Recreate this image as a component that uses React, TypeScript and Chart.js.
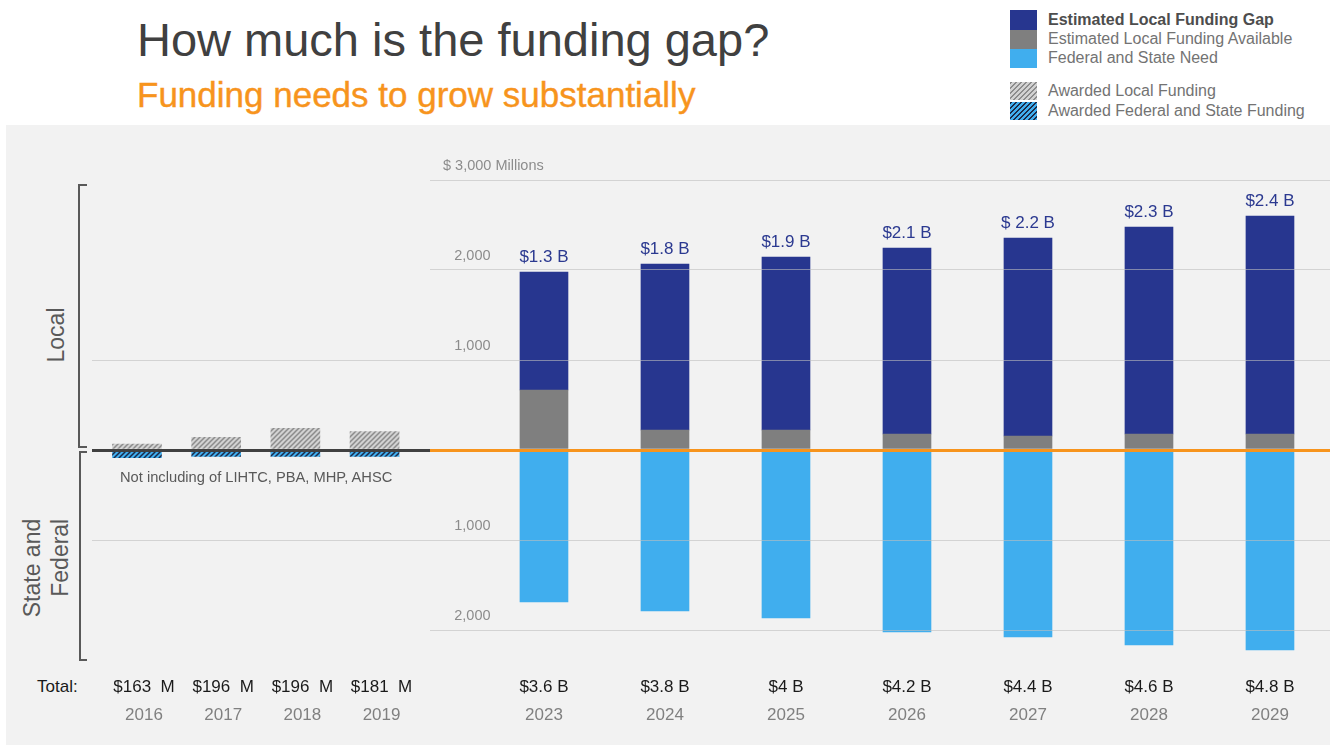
import React, { useEffect, useRef } from 'react';
import { Chart, registerables } from 'chart.js';

Chart.register(...registerables);

// ---------- data ----------
const leftYears = [2016, 2017, 2018, 2019];
const leftTotals = ['$163  M', '$196  M', '$196  M', '$181  M'];
const awardedLocal = [65, 140, 240, 205];
const awardedFederalState = [-85, -70, -70, -70];

const rightYears = [2023, 2024, 2025, 2026, 2027, 2028, 2029];
const rightTotals = ['$3.6 B', '$3.8 B', '$4 B', '$4.2 B', '$4.4 B', '$4.6 B', '$4.8 B'];
const localAvailable = [667, 222, 222, 178, 156, 178, 178];
const localGap = [1311, 1845, 1922, 2066, 2200, 2300, 2422];
const federalStateNeed = [-1689, -1789, -1867, -2022, -2078, -2167, -2222];
const gapLabels = ['$1.3 B', '$1.8 B', '$1.9 B', '$2.1 B', '$ 2.2 B', '$2.3 B', '$2.4 B'];

const yTickValues = [-2000, -1000, 0, 1000, 2000, 3000];
const Y_MIN = -2500;
const Y_MAX = 3000;

// ---------- styles ----------
const FONT = '"Liberation Sans", Arial, sans-serif';
const C_GAP = '#27368f';
const C_AVAIL = '#7f7f7f';
const C_FED = '#40aeee';
const C_ORANGE = '#f7941d';
const C_GRID = 'rgba(190,190,190,0.6)';

function makeHatch(bg: string, fg: string) {
  const s = 5;
  const c = document.createElement('canvas');
  c.width = s;
  c.height = s;
  const g = c.getContext('2d')!;
  g.fillStyle = bg;
  g.fillRect(0, 0, s, s);
  g.strokeStyle = fg;
  g.lineWidth = 1.5;
  g.beginPath();
  g.moveTo(0, s);
  g.lineTo(s, 0);
  g.moveTo(-s / 2, s / 2);
  g.lineTo(s / 2, -s / 2);
  g.moveTo(s / 2, s * 1.5);
  g.lineTo(s * 1.5, s / 2);
  g.stroke();
  return g.createPattern(c, 'repeat')!;
}

function yAxis(showLabels: boolean, gridValues: number[], zeroColor: string) {
  return {
    type: 'linear',
    stacked: true,
    min: Y_MIN,
    max: Y_MAX,
    afterBuildTicks: (axis: any) => {
      axis.ticks = yTickValues.map((v) => ({ value: v }));
    },
    afterFit: (axis: any) => {
      axis.width = 0;
      axis.paddingTop = 0;
      axis.paddingBottom = 0;
      axis.paddingLeft = 0;
      axis.paddingRight = 0;
    },
    border: { display: false },
    grid: {
      z: 1,
      drawTicks: false,
      color: (ctx: any) =>
        ctx.tick && ctx.tick.value === 0
          ? zeroColor
          : ctx.tick && gridValues.includes(ctx.tick.value)
          ? C_GRID
          : 'rgba(0,0,0,0)',
      lineWidth: (ctx: any) => (ctx.tick && ctx.tick.value === 0 ? 3 : 1),
    },
    ticks: {
      mirror: true,
      padding: 13,
      labelOffset: -14,
      color: showLabels ? '#8c8c8c' : 'rgba(0,0,0,0)',
      font: { family: FONT, size: 14.5 },
      callback: (v: number) =>
        v === 0 ? '' : v === 3000 ? '$ 3,000 Millions' : '\u2002 ' + Math.abs(v).toLocaleString('en-US'),
    },
  };
}

function xAxes(years: number[], totals: string[], min: number, max: number, shift: number) {
  const common = {
    type: 'linear',
    min,
    max,
    offset: false,
    position: 'bottom',
    border: { display: false },
    grid: { display: false, drawTicks: false, offset: false },
    afterBuildTicks: (axis: any) => {
      axis.ticks = years.map((v) => ({ value: v }));
    },
  };
  const fixed = (h: number) => (axis: any) => {
    axis.height = h;
    axis.paddingLeft = 0;
    axis.paddingRight = 0;
    axis.paddingTop = 0;
    axis.paddingBottom = 0;
  };
  return {
    x: {
      ...common,
      stacked: true,
      weight: 0,
      afterFit: fixed(22.4),
      ticks: {
        autoSkip: false,
        maxRotation: 0,
        padding: 2,
        labelOffset: shift,
        color: '#1a1a1a',
        font: { family: FONT, size: 17 },
        callback: (v: number) => {
          const i = years.indexOf(v);
          return i >= 0 ? totals[i] : '';
        },
      },
    },
    xYear: {
      ...common,
      weight: 1,
      afterFit: fixed(29.4),
      ticks: {
        autoSkip: false,
        maxRotation: 0,
        padding: 8,
        labelOffset: shift,
        color: '#808080',
        font: { family: FONT, size: 17 },
        callback: (v: number) => String(v),
      },
    },
  };
}

const gapLabelPlugin = {
  id: 'gapLabels',
  afterDatasetsDraw(chart: any) {
    const meta = chart.getDatasetMeta(1);
    const ctx = chart.ctx;
    ctx.save();
    ctx.font = `17px ${FONT}`;
    ctx.fillStyle = '#2b3990';
    ctx.textAlign = 'center';
    ctx.textBaseline = 'alphabetic';
    meta.data.forEach((el: any, i: number) => {
      ctx.fillText(gapLabels[i], el.x, el.y - 10);
    });
    ctx.restore();
  },
};

const LAYOUT = { padding: { top: 55, bottom: 18.2, left: 0, right: 0 } };

export default function App() {
  const leftRef = useRef<HTMLCanvasElement>(null);
  const rightRef = useRef<HTMLCanvasElement>(null);

  useEffect(() => {
    document.body.style.margin = '0';
    Chart.defaults.font.family = FONT;
    const grayHatch = makeHatch('#d2d2d2', '#8c8c8c');
    const blueHatch = makeHatch('#40aeee', '#1c2a48');

    const left = new Chart(leftRef.current!, {
      type: 'bar',
      data: {
        datasets: [
          {
            label: 'Awarded Local Funding',
            data: leftYears.map((x, i) => ({ x, y: awardedLocal[i] })),
            backgroundColor: grayHatch,
            barThickness: 49,
          },
          {
            label: 'Awarded Federal and State Funding',
            data: leftYears.map((x, i) => ({ x, y: awardedFederalState[i] })),
            backgroundColor: blueHatch,
            barThickness: 49,
          },
        ],
      },
      options: {
        responsive: false,
        animation: false,
        layout: LAYOUT,
        plugins: { legend: { display: false }, tooltip: { enabled: false } },
        scales: {
          ...xAxes(leftYears, leftTotals, 2015.432, 2019.7, 7),
          y: yAxis(false, [1000, -1000], '#404040'),
        } as any,
      },
    } as any);

    const right = new Chart(rightRef.current!, {
      type: 'bar',
      data: {
        datasets: [
          {
            label: 'Estimated Local Funding Available',
            data: rightYears.map((x, i) => ({ x, y: localAvailable[i] })),
            backgroundColor: C_AVAIL,
            barThickness: 48,
          },
          {
            label: 'Estimated Local Funding Gap',
            data: rightYears.map((x, i) => ({ x, y: localGap[i] })),
            backgroundColor: C_GAP,
            barThickness: 48,
          },
          {
            label: 'Federal and State Need',
            data: rightYears.map((x, i) => ({ x, y: federalStateNeed[i] })),
            backgroundColor: C_FED,
            barThickness: 48,
          },
        ],
      },
      options: {
        responsive: false,
        animation: false,
        layout: LAYOUT,
        plugins: { legend: { display: false }, tooltip: { enabled: false } },
        scales: {
          ...xAxes(rightYears, rightTotals, 2022.058, 2029.496, 0),
          y: yAxis(true, [3000, 2000, 1000, -1000, -2000], C_ORANGE),
        } as any,
      },
      plugins: [gapLabelPlugin],
    } as any);

    return () => {
      left.destroy();
      right.destroy();
    };
  }, []);

  const legendRows = [
    { label: 'Estimated Local Funding Gap', top: 10, h: 19.5, bg: C_GAP, bold: true },
    { label: 'Estimated Local Funding Available', top: 29.5, h: 19.5, bg: C_AVAIL },
    { label: 'Federal and State Need', top: 49, h: 18.5, bg: C_FED },
    {
      label: 'Awarded Local Funding',
      top: 81.5,
      h: 18.5,
      bg: 'repeating-linear-gradient(135deg, #8c8c8c 0 1.5px, #d2d2d2 1.5px 3.6px)',
    },
    {
      label: 'Awarded Federal and State Funding',
      top: 101.5,
      h: 18.5,
      bg: 'repeating-linear-gradient(135deg, #1c2a48 0 1.5px, #40aeee 1.5px 3.6px)',
    },
  ];

  return (
    <div
      style={{
        position: 'absolute',
        left: 0,
        top: 0,
        width: 1330,
        height: 745,
        overflow: 'hidden',
        background: '#ffffff',
        fontFamily: FONT,
      }}
    >
      <div style={{ position: 'absolute', left: 6, top: 125, width: 1324, height: 620, background: '#f2f2f2' }} />

      <div style={{ position: 'absolute', left: 137, top: 16.2, fontSize: 47, lineHeight: 1, color: '#404040', whiteSpace: 'nowrap' }}>
        How much is the funding gap?
      </div>
      <div style={{ position: 'absolute', left: 137, top: 77.4, fontSize: 35, lineHeight: 1, color: C_ORANGE, whiteSpace: 'nowrap', WebkitTextStroke: '0.4px ' + C_ORANGE }}>
        Funding needs to grow substantially
      </div>

      {legendRows.map((r) => (
        <div
          key={r.label}
          style={{ position: 'absolute', left: 1010, top: r.top, height: r.h, display: 'flex', alignItems: 'center', whiteSpace: 'nowrap' }}
        >
          <div style={{ width: 27, height: r.h, background: r.bg }} />
          <div
            style={{
              marginLeft: 11,
              fontSize: 16,
              lineHeight: 1,
              fontWeight: r.bold ? 'bold' : 'normal',
              color: r.bold ? '#4d4d4d' : '#737373',
            }}
          >
            {r.label}
          </div>
        </div>
      ))}

      {/* side brackets */}
      <div style={{ position: 'absolute', left: 78, top: 184, width: 9, height: 264, border: '2px solid #595959', borderRight: 'none', boxSizing: 'border-box' }} />
      <div style={{ position: 'absolute', left: 79, top: 451, width: 8, height: 210, border: '2px solid #595959', borderRight: 'none', boxSizing: 'border-box' }} />
      <div
        style={{
          position: 'absolute',
          left: 56,
          top: 335,
          transform: 'translate(-50%, -50%) rotate(-90deg)',
          fontSize: 23,
          lineHeight: 1,
          color: '#595959',
          whiteSpace: 'nowrap',
        }}
      >
        Local
      </div>
      <div
        style={{
          position: 'absolute',
          left: 46,
          top: 568,
          transform: 'translate(-50%, -50%) rotate(-90deg)',
          fontSize: 23,
          lineHeight: '28px',
          color: '#595959',
          whiteSpace: 'nowrap',
          textAlign: 'right',
        }}
      >
        State and
        <br />
        Federal
      </div>

      <canvas ref={leftRef} width={338} height={620} style={{ position: 'absolute', left: 92, top: 125 }} />
      <canvas ref={rightRef} width={900} height={620} style={{ position: 'absolute', left: 430, top: 125 }} />

      <div style={{ position: 'absolute', left: 120, top: 470, fontSize: 14.7, lineHeight: 1, color: '#595959', whiteSpace: 'nowrap' }}>
        Not including of LIHTC, PBA, MHP, AHSC
      </div>
      <div style={{ position: 'absolute', left: 37, top: 677.5, fontSize: 17, lineHeight: 1, color: '#1a1a1a', whiteSpace: 'nowrap' }}>
        Total:
      </div>
    </div>
  );
}
